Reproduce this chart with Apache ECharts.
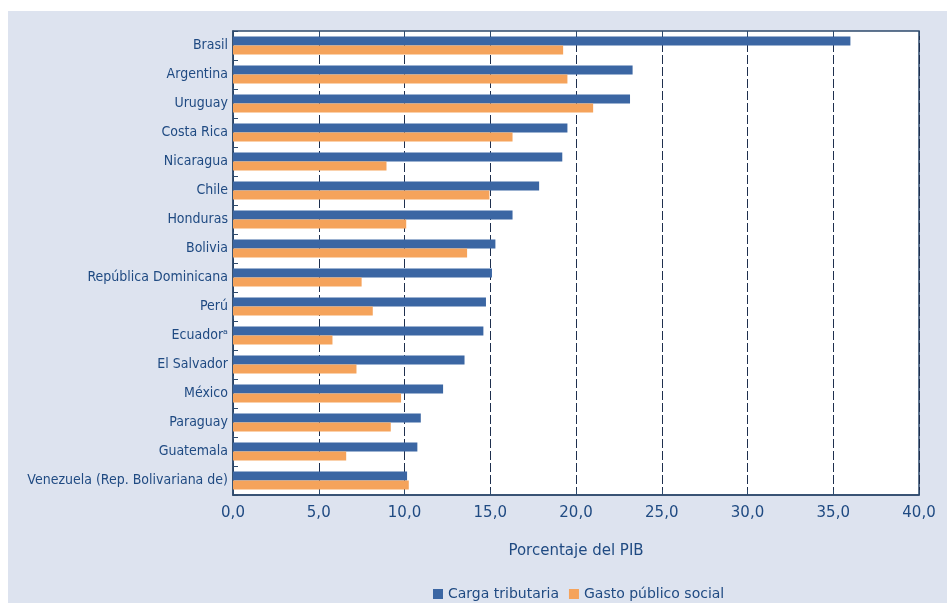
<!DOCTYPE html>
<html>
<head>
<meta charset="utf-8">
<script src="https://cdn.jsdelivr.net/npm/echarts@6/dist/echarts.min.js"></script>
<style>html,body{margin:0;padding:0;background:#fff}#c{width:947px;height:603px}</style>
</head>
<body>
<div id="c"></div>
<script>
const categories = ["Brasil","Argentina","Uruguay","Costa Rica","Nicaragua","Chile","Honduras","Bolivia","República Dominicana","Perú","Ecuador\u1d43","El Salvador","México","Paraguay","Guatemala","Venezuela (Rep. Bolivariana de)"];
const cargaTributaria = [36.0,23.3,23.15,19.5,19.2,17.85,16.3,15.3,15.1,14.75,14.6,13.5,12.25,10.95,10.75,10.15];
const gastoSocial = [19.25,19.5,21.0,16.3,8.95,14.95,10.1,13.65,7.5,8.15,5.8,7.2,9.8,9.2,6.6,10.25];
const xTicks = [0,5,10,15,20,25,30,35,40];
const seriesNames = ["Carga tributaria","Gasto público social"];

const textColor = '#1f4a82';
const chart = echarts.init(document.getElementById('c'), null, {renderer:'canvas'});
chart.setOption({
  backgroundColor:'#ffffff',
  animation:false,
  graphic:[{type:'rect', z:-10, shape:{x:8,y:11,width:939,height:592}, style:{fill:'#dde3ef'}}],
  grid:{left:233,right:28,top:31,bottom:108,show:true,backgroundColor:'#ffffff',borderColor:'#2e4a6c',borderWidth:1.5},
  legend:{
    data:seriesNames, left:428, top:582, itemWidth:10, itemHeight:10, itemGap:10, itemTextGap:7, icon:'rect',
    textStyle:{color:textColor,fontFamily:'DejaVu Sans',fontSize:14}
  },
  xAxis:[{
    type:'value', min:xTicks[0], max:xTicks[xTicks.length-1], interval:5,
    name:'Porcentaje del PIB', nameLocation:'middle', nameGap:49,
    nameTextStyle:{color:textColor,fontFamily:'DejaVu Sans',fontSize:15},
    axisLine:{show:true,lineStyle:{color:'#2e4a6c',width:1.5}},
    axisTick:{show:true,inside:true,length:5,lineStyle:{color:'#2e4a6c'}},
    axisLabel:{color:textColor,fontFamily:'DejaVu Sans',fontSize:15,margin:11,
      formatter:v=>v.toFixed(1).replace('.',',')},
    splitLine:{show:true,lineStyle:{color:'#1e2f4e',width:1,type:[9,3]}}
  },{
    type:'value', position:'top', min:0, max:40, interval:5,
    axisLine:{show:false}, axisTick:{show:true,inside:true,length:5,lineStyle:{color:'#2e4a6c'}},
    axisLabel:{show:false}, splitLine:{show:false}
  }],
  yAxis:{
    type:'category', data:categories, inverse:true,
    axisLine:{show:true,lineStyle:{color:'#2e4a6c',width:1.5}},
    axisTick:{show:true,inside:true,length:5,lineStyle:{color:'#2e4a6c'}},
    axisLabel:{color:textColor,fontFamily:'DejaVu Sans Condensed',fontSize:14,margin:5},
    splitLine:{show:false}
  },
  series:[
    {name:seriesNames[0],type:'bar',data:cargaTributaria,barWidth:9,barGap:'0%',itemStyle:{color:'#3b66a3'}},
    {name:seriesNames[1],type:'bar',data:gastoSocial,barWidth:9,barGap:'0%',itemStyle:{color:'#f5a35b'}}
  ]
});
</script>
</body>
</html>
